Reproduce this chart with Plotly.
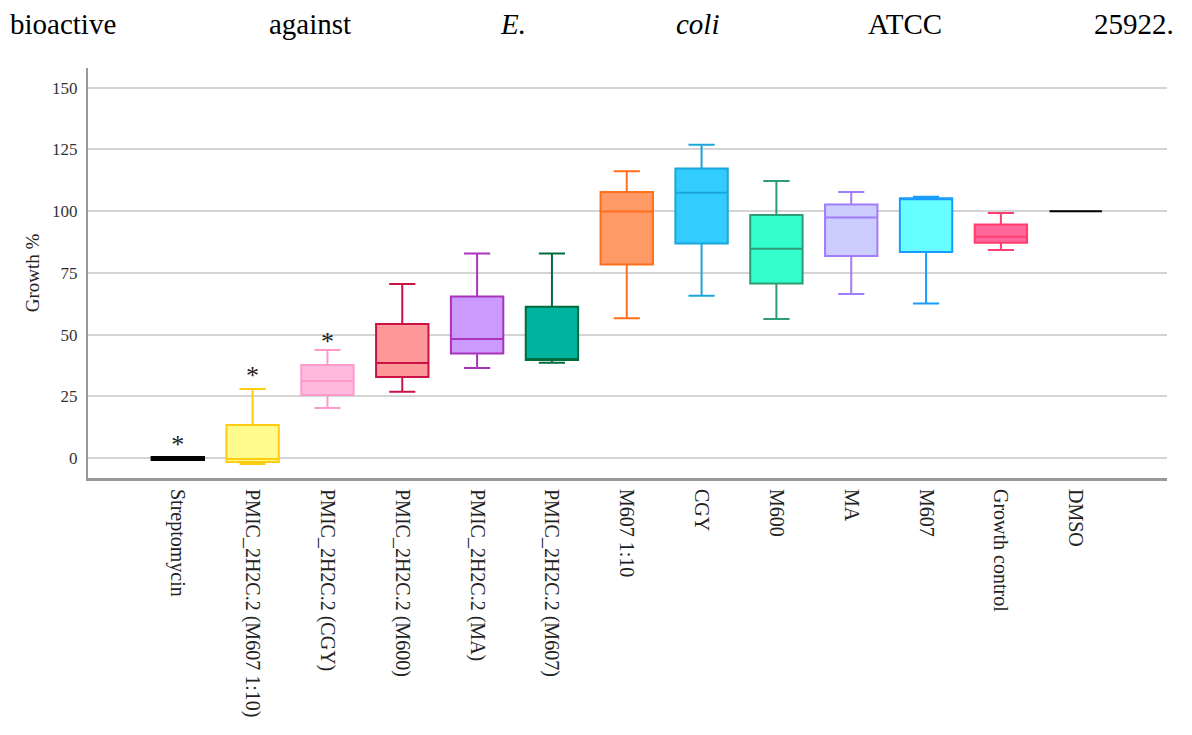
import plotly.graph_objects as go

categories = ["Streptomycin", "PMIC_2H2C.2 (M607 1:10)", "PMIC_2H2C.2 (CGY)", "PMIC_2H2C.2 (M600)",
              "PMIC_2H2C.2 (MA)", "PMIC_2H2C.2 (M607)", "M607 1:10", "CGY", "M600", "MA", "M607",
              "Growth control", "DMSO"]
lower = [-0.8, -2.4, 20.3, 26.8, 36.5, 38.6, 56.6, 65.7, 56.3, 66.4, 62.6, 84.3, 100.0]
q1 = [-0.8, -1.6, 25.5, 32.8, 42.3, 39.7, 78.4, 86.9, 70.7, 81.8, 83.5, 87.2, 100.0]
median = [0.0, -0.4, 31.2, 38.5, 48.2, 39.9, 99.9, 107.5, 84.8, 97.4, 105.0, 89.6, 100.0]
q3 = [0.4, 13.4, 37.7, 54.3, 65.4, 61.3, 107.8, 117.3, 98.4, 102.7, 105.2, 94.6, 100.0]
upper = [0.4, 28.0, 43.8, 70.5, 82.8, 82.8, 116.2, 126.9, 112.2, 107.8, 105.8, 99.3, 100.0]
fills = ["#000000", "#FFFA8C", "#FFBBDD", "#FF9999", "#CC99FF", "#00B39E", "#FF9966", "#33CCFF",
         "#33FFCC", "#CCCCFF", "#66FFFF", "#FF6699", "#000000"]
lines = ["#000000", "#FFCC11", "#FF99CC", "#CC1144", "#AA33BB", "#006B3C", "#FF6E1A", "#1AA6DB",
         "#2A9D75", "#A07CFF", "#1A9CFF", "#FF3D6E", "#000000"]
outlier_cats = ["Streptomycin", "PMIC_2H2C.2 (M607 1:10)", "PMIC_2H2C.2 (CGY)"]
outlier_vals = [4.5, 32.5, 46.5]

fig = go.Figure()
for i, c in enumerate(categories):
    fig.add_trace(go.Box(
        x=[c], q1=[q1[i]], median=[median[i]], q3=[q3[i]],
        lowerfence=[lower[i]], upperfence=[upper[i]],
        fillcolor=fills[i], line=dict(color=lines[i], width=2),
        width=0.7, whiskerwidth=0.5, boxpoints=False, showlegend=False,
        hoverinfo="skip"))

fig.add_trace(go.Scatter(x=outlier_cats, y=outlier_vals, mode="text", text=["*"] * 3,
                         textfont=dict(family="Liberation Serif", size=26, color="#222"),
                         showlegend=False, hoverinfo="skip"))

fig.update_layout(
    width=1192, height=735, paper_bgcolor="white", plot_bgcolor="white",
    margin=dict(l=88, r=25, t=68, b=257),
    font=dict(family="Liberation Serif", color="#222"),
)
fig.update_xaxes(type="category", categoryorder="array", categoryarray=categories,
                 range=[-1.2, 13.22], tickangle=90, showline=True, linecolor="#9a9a9a",
                 linewidth=3, ticks="outside", ticklen=4, tickcolor="rgba(0,0,0,0)", showgrid=False,
                 tickfont=dict(family="Liberation Serif", size=20, color="#222"))
fig.update_yaxes(range=[-8.1, 158], tickvals=[0, 25, 50, 75, 100, 125, 150],
                 showline=True, linecolor="#9a9a9a", linewidth=2,
                 ticks="outside", ticklen=5, tickcolor="rgba(0,0,0,0)",
                 showgrid=True, gridcolor="#d4d4d4", gridwidth=2, zeroline=False,
                 tickfont=dict(family="Liberation Serif", size=17, color="#333"),
                 title=dict(text="Growth %", font=dict(family="Liberation Serif", size=19, color="#222"),
                            standoff=7))

words = [("bioactive", 8, False), ("against", 267, False), ("E.", 498, True), ("coli", 674, True),
         ("ATCC", 866, False), ("25922.", 1092, False)]
for w, px, it in words:
    fig.add_annotation(text=f"<i>{w}</i>" if it else w, xref="paper", yref="paper",
                       x=(px - 88) / 1079, y=1 + (68 - 24) / 410,
                       xanchor="left", yanchor="middle", showarrow=False,
                       font=dict(family="Liberation Serif", size=29, color="black"))

fig.write_html("out.html")
